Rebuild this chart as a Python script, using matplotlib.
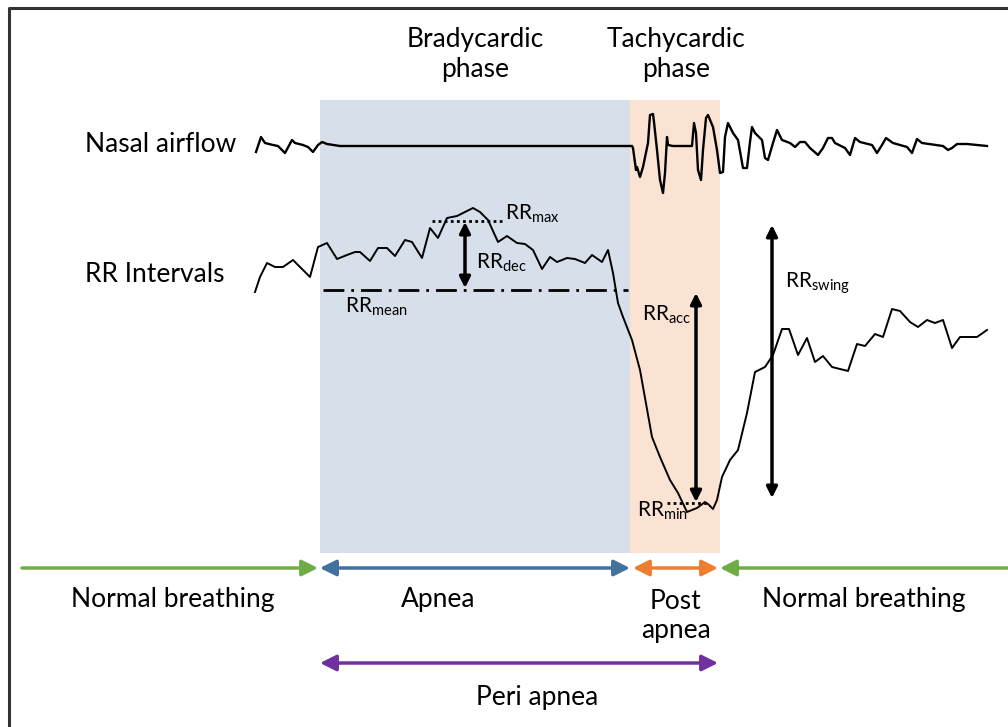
import matplotlib.pyplot as plt
from matplotlib.patches import Rectangle

plt.rcParams['font.family'] = ['Lato', 'DejaVu Sans']
plt.rcParams['mathtext.default'] = 'regular'

# phase boundaries (time units of the diagram)
apnea_start = 320
apnea_end = 630
post_end = 720

# nasal airflow trace
nasal_t = [256, 261, 265, 273, 278, 285, 292, 295, 303, 308, 313, 318, 322, 327, 340,
           632, 633, 636, 637, 640, 643, 648, 650, 653, 654, 657, 660, 663, 665, 667, 668,
           673, 692, 694, 696, 698, 701, 703, 706, 708, 713, 717, 720, 723, 725, 728, 733,
           738, 743, 747, 750, 752, 755, 762, 765, 768, 773, 777, 782, 790, 795, 800, 805,
           810, 818, 823, 828, 832, 835, 845, 850, 855, 860, 872, 877, 882, 886, 893, 907,
           912, 917, 922, 943, 948, 952, 957, 967, 987]
nasal_v = [152, 137, 143, 145, 146, 153, 140, 143, 145, 147, 152, 145, 142, 144, 146,
           146, 148, 170, 167, 177, 167, 143, 115, 114, 122, 150, 180, 193, 173, 137, 145,
           146, 146, 123, 133, 170, 180, 150, 118, 115, 127, 150, 173, 172, 137, 123, 133,
           140, 168, 168, 142, 127, 133, 140, 158, 160, 143, 130, 140, 143, 147, 142, 142,
           148, 155, 148, 138, 138, 143, 148, 155, 138, 142, 145, 153, 145, 138, 143, 147,
           153, 139, 143, 146, 150, 148, 144, 144, 146]

# RR interval trace
rr_t = [255, 260, 267, 275, 283, 293, 310, 318, 327, 337, 347, 355, 360, 370, 378, 387,
        395, 405, 412, 422, 430, 438, 447, 457, 473, 480, 488, 498, 507, 517, 525, 533,
        542, 550, 557, 567, 575, 585, 592, 602, 608, 613, 618, 623, 632, 640, 652, 660,
        670, 678, 687, 697, 705, 708, 713, 717, 722, 730, 738, 747, 755, 765, 773, 782,
        789, 798, 807, 815, 823, 832, 848, 857, 865, 875, 883, 892, 900, 910, 918, 927,
        935, 943, 952, 960, 977, 987]
rr_v = [292, 277, 263, 267, 267, 260, 277, 247, 243, 259, 255, 252, 252, 261, 248, 248,
        256, 240, 242, 258, 228, 238, 218, 216, 208, 212, 220, 242, 236, 243, 244, 250,
        269, 257, 262, 258, 259, 263, 255, 262, 250, 273, 303, 317, 340, 370, 437, 457,
        480, 493, 512, 508, 502, 504, 509, 500, 477, 460, 450, 413, 372, 367, 355, 329,
        329, 355, 338, 362, 356, 367, 371, 344, 346, 334, 337, 309, 311, 322, 327, 320,
        323, 320, 348, 337, 337, 330]

# reference levels
rr_mean = 290
rr_max = 221
rr_min = 503

fig = plt.figure(figsize=(10.08, 7.27), dpi=100)
ax = fig.add_axes([0, 0, 1, 1])
ax.set_xlim(0, 1008)
ax.set_ylim(727, 0)
ax.axis('off')

# frame
ax.plot([9, 9, 1008], [727, 8, 8], color='#333333', lw=2.2, solid_capstyle='butt')

# shaded phases
ax.add_patch(Rectangle((apnea_start, 100), apnea_end - apnea_start, 453,
                       facecolor='#d7e0ea', edgecolor='none'))
ax.add_patch(Rectangle((apnea_end, 100), post_end - apnea_end, 453,
                       facecolor='#fbe3d4', edgecolor='none'))

fs = 19
ax.text(475, 54, 'Bradycardic\nphase', ha='center', va='center', fontsize=fs, linespacing=1.25)
ax.text(676, 54, 'Tachycardic\nphase', ha='center', va='center', fontsize=fs, linespacing=1.25)
ax.text(85, 145, 'Nasal airflow', ha='left', va='center', fontsize=fs)
ax.text(85, 274, 'RR Intervals', ha='left', va='center', fontsize=fs)

# traces
ax.plot(nasal_t, nasal_v, color='black', lw=1.7)
ax.plot(rr_t, rr_v, color='black', lw=1.4)

# annotations
ax.plot([323, 628], [rr_mean, rr_mean], color='black', lw=2, dashes=(7.5, 2.5, 1, 2.5))
ax.plot([432, 502], [rr_max, rr_max], color='black', lw=2, ls=(0, (1, 1.2)))
ax.plot([667, 707], [rr_min, rr_min], color='black', lw=2, ls=(0, (1, 1.2)))

def double_arrow(x0, y0, x1, y1, color, lw, scale):
    ax.annotate('', xy=(x1, y1), xytext=(x0, y0),
                arrowprops=dict(arrowstyle='<|-|>', color=color, lw=lw,
                                mutation_scale=scale, shrinkA=0, shrinkB=0))

def single_arrow(x0, y0, x1, y1, color, lw, scale):
    ax.annotate('', xy=(x1, y1), xytext=(x0, y0),
                arrowprops=dict(arrowstyle='-|>', color=color, lw=lw,
                                mutation_scale=scale, shrinkA=0, shrinkB=0))

double_arrow(465, 222, 465, 288, 'black', 2.5, 16)
double_arrow(696, 293, 696, 502, 'black', 2.5, 16)
double_arrow(772, 225, 772, 498, 'black', 2.5, 16)

sub = 15
ax.text(505, 214, r'RR$_{max}$', fontsize=sub, va='center')
ax.text(476, 263, r'RR$_{dec}$', fontsize=sub, va='center')
ax.text(345, 307, r'RR$_{mean}$', fontsize=sub, va='center')
ax.text(642, 315, r'RR$_{acc}$', fontsize=sub, va='center')
ax.text(637, 511, r'RR$_{min}$', fontsize=sub, va='center')
ax.text(785, 283, r'RR$_{swing}$', fontsize=sub, va='center')

# phase arrows
green = '#70ad47'
blue = '#41719c'
orange = '#ed7d31'
purple = '#7030a0'
yarr = 568
single_arrow(22, yarr, 318, yarr, green, 2.5, 24)
double_arrow(320, yarr, 630, yarr, blue, 2.5, 24)
double_arrow(633, yarr, 718, yarr, orange, 2.5, 24)
single_arrow(1008, yarr, 720, yarr, green, 2.5, 24)
double_arrow(320, 663, 718, 663, purple, 2.5, 24)

ax.text(173, 600, 'Normal breathing', ha='center', va='center', fontsize=fs)
ax.text(438, 600, 'Apnea', ha='center', va='center', fontsize=fs)
ax.text(676, 616, 'Post\napnea', ha='center', va='center', fontsize=fs, linespacing=1.2)
ax.text(864, 600, 'Normal breathing', ha='center', va='center', fontsize=fs)
ax.text(537, 697, 'Peri apnea', ha='center', va='center', fontsize=fs)

fig.savefig('out.png', dpi=100)
